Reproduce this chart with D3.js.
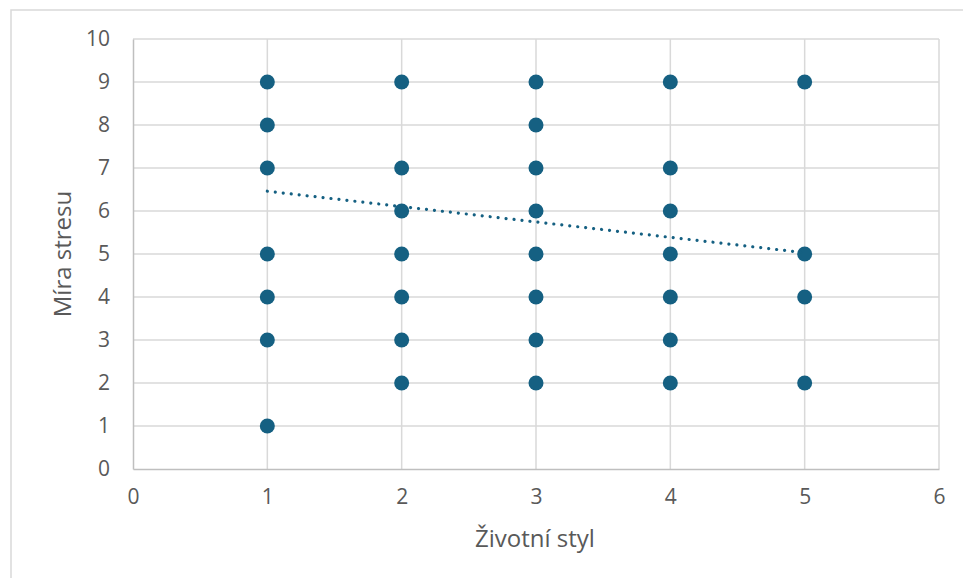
<!DOCTYPE html>
<html><head><meta charset="utf-8">
<script src="https://cdn.jsdelivr.net/npm/d3@7"></script>
<style>html,body{margin:0;padding:0;background:#fff;}svg{display:block;}</style>
</head><body>
<svg id="c" width="963" height="578"></svg>
<script>
// Data: [Životní styl, Míra stresu]
const xVals = [1,1,1,1,1,1,1, 2,2,2,2,2,2,2, 3,3,3,3,3,3,3,3, 4,4,4,4,4,4,4, 5,5,5,5];
const yVals = [9,8,7,5,4,3,1, 9,7,6,5,4,3,2, 9,8,7,6,5,4,3,2, 9,7,6,5,4,3,2, 9,5,4,2];
const trendX = [1, 5];
const trendY = [6.46, 5.03];
const xTicks = [0,1,2,3,4,5,6];
const yTicks = [0,1,2,3,4,5,6,7,8,9,10];
const xTitle = "Životní styl";
const yTitle = "Míra stresu";

const svg = d3.select("#c");
const m = {l:133, r:939, t:39, b:469};
const x = d3.scaleLinear().domain([0,6]).range([m.l, m.r]);
const y = d3.scaleLinear().domain([0,10]).range([m.b, m.t]);
const font = "'Open Sans', Roboto, sans-serif";

// chart border
svg.append("rect").attr("x",11).attr("y",10).attr("width",970).attr("height",600)
  .attr("fill","none").attr("stroke","#d9d9d9").attr("stroke-width",1.5);

// gridlines
const g = svg.append("g");
g.selectAll("line.h").data(yTicks.filter(d=>d>0)).join("line")
  .attr("x1",m.l).attr("x2",m.r).attr("y1",d=>y(d)).attr("y2",d=>y(d))
  .attr("stroke","#d9d9d9").attr("stroke-width",1.5);
g.selectAll("line.v").data(xTicks.filter(d=>d>0)).join("line")
  .attr("y1",m.t).attr("y2",m.b).attr("x1",d=>x(d)).attr("x2",d=>x(d))
  .attr("stroke","#d9d9d9").attr("stroke-width",1.5);

// axes
const xAxis = d3.axisBottom(x).tickValues(xTicks).tickFormat(d3.format("d")).tickSize(0).tickPadding(20);
const yAxis = d3.axisLeft(y).tickValues(yTicks).tickFormat(d3.format("d")).tickSize(0).tickPadding(23);
const gx = svg.append("g").attr("transform",`translate(0,${m.b})`).call(xAxis);
const gy = svg.append("g").attr("transform",`translate(${m.l},0)`).call(yAxis);
[gx,gy].forEach(a=>{
  a.select(".domain").attr("stroke","#bfbfbf").attr("stroke-width",1.5);
  a.selectAll("text").attr("fill","#595959").style("font-family",font).style("font-size","21px");
});

// points
const pts = xVals.map((v,i)=>[v,yVals[i]]);
svg.append("g").selectAll("circle").data(pts).join("circle")
  .attr("cx",d=>x(d[0])).attr("cy",d=>y(d[1])).attr("r",7.5)
  .attr("fill","#156082");

// trendline
const tr = trendX.map((v,i)=>[v,trendY[i]]);
svg.append("path").datum(tr)
  .attr("d", d3.line().x(d=>x(d[0])).y(d=>y(d[1])))
  .attr("fill","none").attr("stroke","#156082").attr("stroke-width",3.2)
  .attr("stroke-linecap","round").attr("stroke-dasharray","0.01 8");

// titles
svg.append("text").attr("x",535).attr("y",547).attr("text-anchor","middle")
  .attr("fill","#595959").style("font-family",font).style("font-size","24px").text(xTitle);
svg.append("text").attr("transform",`translate(71,254) rotate(-90)`)
  .attr("text-anchor","middle")
  .attr("fill","#595959").style("font-family",font).style("font-size","24px").text(yTitle);
</script>
</body></html>
